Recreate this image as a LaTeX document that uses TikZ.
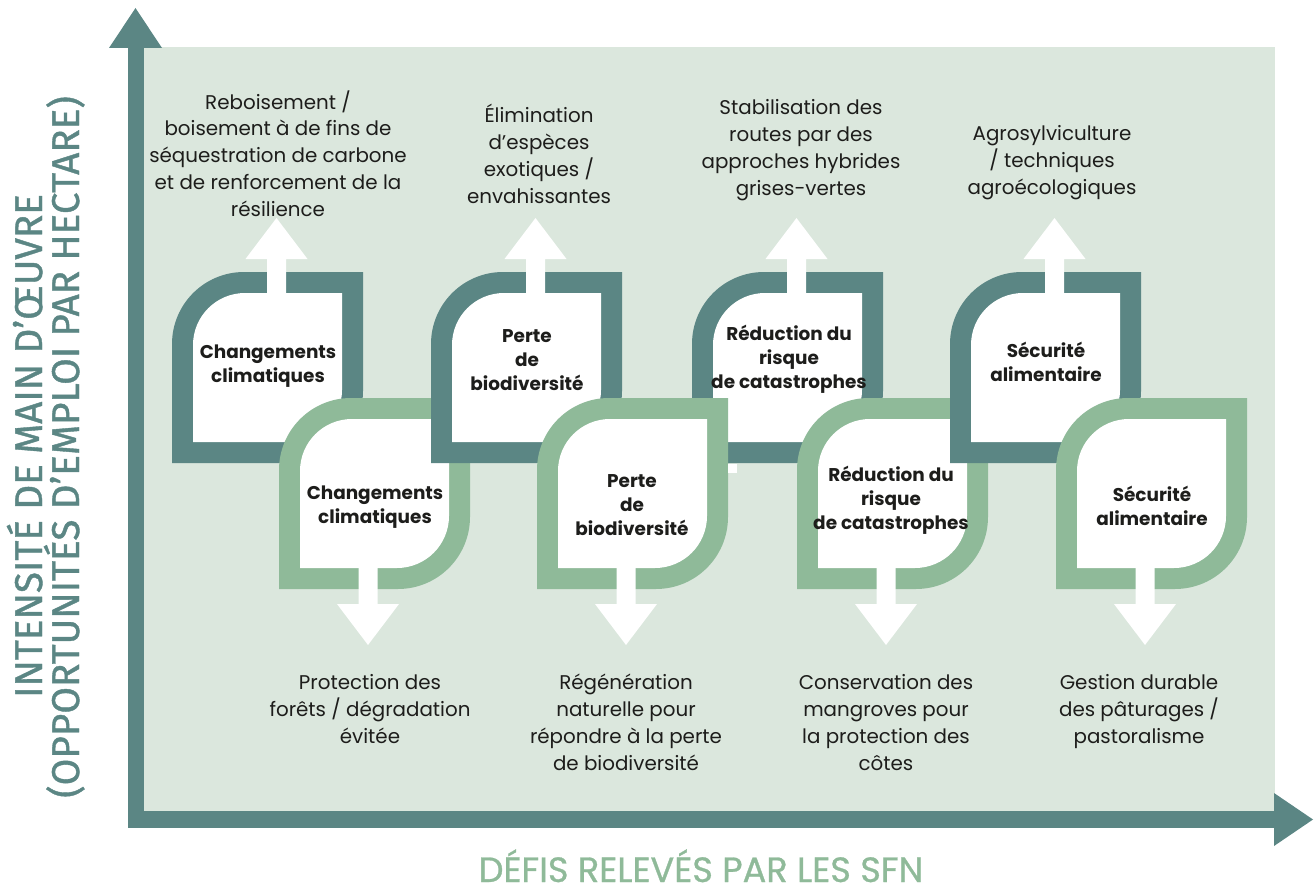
\documentclass[tikz,border=0pt]{standalone}
\usepackage{fontspec}
\setmainfont{Poppins}
\newfontfamily\axisfont[FakeBold=1]{Fira Sans}
\newfontfamily\titlefont[FakeBold=0.8]{Poppins}
\usetikzlibrary{positioning}

\definecolor{darkteal}{HTML}{5B8684}
\definecolor{lightgreen}{HTML}{8FBA99}
\definecolor{bgmint}{HTML}{DBE7DD}
\definecolor{inkblack}{HTML}{1D1D1B}

\tikzset{
  boxlabel/.style={font=\bfseries\fontsize{10.5}{13.6}\selectfont, align=center, text=inkblack},
  outcome/.style={font=\fontsize{11.3}{15.3}\selectfont, align=center, text=inkblack, anchor=north, inner sep=0pt},
  ylabel/.style={font=\axisfont\fontsize{22}{22}\selectfont, text=darkteal, rotate=90, anchor=base, inner sep=0pt},
  xlabel/.style={font=\titlefont\fontsize{20}{20}\selectfont, text=lightgreen, anchor=base, inner sep=0pt},
}

% leaf shaped frame, top left corner at (#1,#2)
\newcommand{\leafbox}[3]{%
  \fill[#3] (#1,#2-72) arc[start angle=180,end angle=90,radius=72]
    -- (#1+191,#2) -- (#1+191,#2-119) arc[start angle=0,end angle=-90,radius=72]
    -- (#1,#2-191) -- cycle;
  \fill[white] (#1+21,#2-73) arc[start angle=180,end angle=90,radius=52]
    -- (#1+170,#2-21) -- (#1+170,#2-118) arc[start angle=0,end angle=-90,radius=52]
    -- (#1+21,#2-170) -- cycle;
}
% dark box with its arrow going up
\newcommand{\darkpart}[1]{%
  \leafbox{#1}{-272}{darkteal}
  \fill[white] (#1+95,-300) -- (#1+95,-259) -- (#1+73.5,-259) -- (#1+104.5,-218)
    -- (#1+135.5,-259) -- (#1+114,-259) -- (#1+114,-300) -- cycle;
}
% light box with its arrow going down
\newcommand{\lightpart}[1]{%
  \leafbox{#1}{-398}{lightgreen}
  \fill[white] (#1+79.5,-560) -- (#1+79.5,-604) -- (#1+58,-604) -- (#1+89,-645)
    -- (#1+120,-604) -- (#1+98.5,-604) -- (#1+98.5,-560) -- cycle;
}

\begin{document}
\begin{tikzpicture}[x=0.02cm, y=0.02cm]
  \useasboundingbox (0,0) rectangle (1315,-892);

  % Background panel
  \fill[bgmint] (144,-47) rectangle (1275,-811);

  % Axes
  \fill[darkteal] (128,-48) rectangle (144,-828);
  \fill[darkteal] (128,-811) rectangle (1275,-828);
  \fill[darkteal] (109,-48) -- (135.5,-8) -- (162,-48) -- cycle;
  \fill[darkteal] (1274,-793) -- (1313,-819.5) -- (1274,-846) -- cycle;

  % Boxes, in the order they overlap
  \darkpart{172}
  \lightpart{279}
  \darkpart{692}
  \darkpart{431}
  \lightpart{537}
  \lightpart{797}
  \darkpart{950}
  \lightpart{1056}
  \fill[white] (728,-464) rectangle (737,-473);

  % Box labels
  \node[boxlabel] (dk1) at (268,-366) {Changements\\climatiques};
  \node[boxlabel] (lt1) at (375,-507) {Changements\\climatiques};
  \node[boxlabel] (dk2) at (527,-360) {Perte\\de\\biodiversité};
  \node[boxlabel] (lt2) at (632,-505) {Perte\\de\\biodiversité};
  \node[boxlabel] (dk3) at (789,-359) {Réduction du\\risque\\de catastrophes};
  \node[boxlabel] (lt3) at (891,-500) {Réduction du\\risque\\de catastrophes};
  \node[boxlabel] (dk4) at (1046,-362) {Sécurité\\alimentaire};
  \node[boxlabel] (lt4) at (1152,-506) {Sécurité\\alimentaire};

  % Solutions above
  \node[outcome] (up1) at (278,-90) {Reboisement /\\boisement à de fins de\\séquestration de carbone\\et de renforcement de la\\résilience};
  \node[outcome] (up2) at (539,-104) {Élimination\\d’espèces\\exotiques /\\envahissantes};
  \node[outcome] (up3) at (801,-99) {Stabilisation des\\routes par des\\approches hybrides\\grises-vertes};
  \node[outcome] (up4) at (1052,-125) {Agrosylviculture\\/ techniques\\agroécologiques};

  % Solutions below
  \node[outcome] (down1) at (370,-674) {Protection des\\forêts / dégradation\\évitée};
  \node[outcome] (down2) at (626,-674) {Régénération\\naturelle pour\\répondre à la perte\\de biodiversité};
  \node[outcome] (down3) at (886,-674) {Conservation des\\mangroves pour\\la protection des\\côtes};
  \node[outcome] (down4) at (1139,-674) {Gestion durable\\des pâturages /\\pastoralisme};

  % Axis titles
  \node[ylabel] (ytitle1) at (42,-446) {INTENSITÉ DE MAIN D’ŒUVRE};
  \node[ylabel] (ytitle2) at (79,-447) {(OPPORTUNITÉS D’EMPLOI PAR HECTARE)};
  \node[xlabel] (xtitle) at (701,-882) {DÉFIS RELEVÉS PAR LES SFN};
\end{tikzpicture}
\end{document}
